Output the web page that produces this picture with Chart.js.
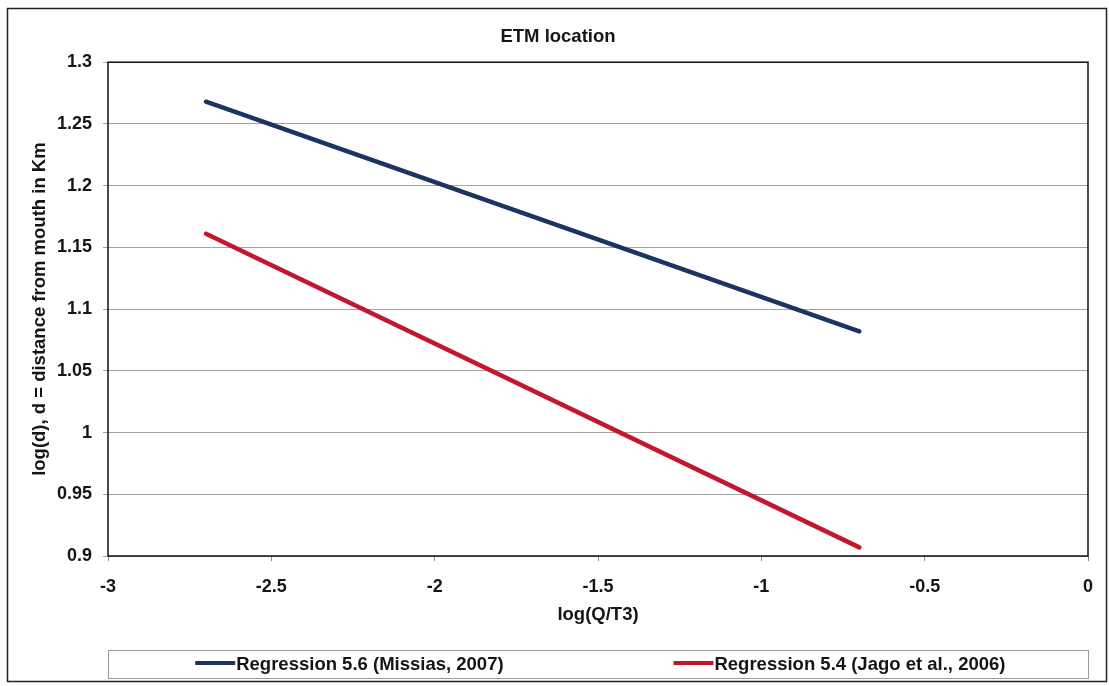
<!DOCTYPE html>
<html>
<head>
<meta charset="utf-8">
<title>ETM location</title>
<script src="https://cdn.jsdelivr.net/npm/chart.js@4"></script>
<style>
  html, body { margin: 0; background: #fff; }
  #wrap { width: 1109px; height: 686px; }
</style>
</head>
<body>
<div id="wrap"><canvas id="etm" width="1109" height="686"></canvas></div>
<script>
// axis ticks
const xTicks = [-3, -2.5, -2, -1.5, -1, -0.5, 0];
const yTicks = [0.9, 0.95, 1, 1.05, 1.1, 1.15, 1.2, 1.25, 1.3];

// regression lines: log(Q/T3) -> log(d)
const logQT3 = [-2.7, -0.7];
const missias = [1.268, 1.082];
const jago = [1.161, 0.907];

const seriesNames = ['Regression 5.6 (Missias, 2007)', 'Regression 5.4 (Jago et al., 2006)'];
const seriesColors = ['#1c3462', '#c3172e'];

const FONT = "'Liberation Sans', Arial, sans-serif";
Chart.defaults.font.family = FONT;
Chart.defaults.font.weight = 'bold';
Chart.defaults.font.size = 18;
Chart.defaults.color = '#151515';

const toPoints = ys => logQT3.map((x, i) => ({ x, y: ys[i] }));

// white page + outer frame
const framePlugin = {
  id: 'frame',
  beforeDraw(chart) {
    const c = chart.ctx;
    c.save();
    c.fillStyle = '#fff';
    c.fillRect(0, 0, chart.width, chart.height);
    c.strokeStyle = '#222';
    c.lineWidth = 1.5;
    c.strokeRect(7.5, 8.5, 1099, 673);
    c.restore();
  }
};

// black box round the plot area
const plotBoxPlugin = {
  id: 'plotBox',
  afterDatasetsDraw(chart) {
    const { left, top, right, bottom } = chart.chartArea;
    const c = chart.ctx;
    c.save();
    c.strokeStyle = '#111';
    c.lineWidth = 1.5;
    c.strokeRect(left, top, right - left, bottom - top);
    c.restore();
  }
};

// legend in a framed strip under the axis title
const legendBoxPlugin = {
  id: 'legendBox',
  afterDraw(chart) {
    const { left, right } = chart.chartArea;
    const c = chart.ctx;
    const top = 650, h = 28, midY = top + h / 2;
    const starts = [0.089, 0.577];
    c.save();
    c.strokeStyle = '#9a9a9a';
    c.lineWidth = 1;
    c.strokeRect(left + 0.5, top + 0.5, right - left, h);
    c.font = `bold 18.5px ${FONT}`;
    c.textBaseline = 'middle';
    c.fillStyle = '#151515';
    chart.data.datasets.forEach((ds, i) => {
      const x0 = left + starts[i] * (right - left);
      c.strokeStyle = ds.borderColor;
      c.lineWidth = 4;
      c.beginPath();
      c.moveTo(x0, midY - 1);
      c.lineTo(x0 + 40, midY - 1);
      c.stroke();
      c.fillText(ds.label, x0 + 41, midY + 1);
    });
    c.restore();
  }
};

new Chart(document.getElementById('etm'), {
  type: 'scatter',
  data: {
    datasets: [
      {
        label: seriesNames[0],
        data: toPoints(missias),
        borderColor: seriesColors[0],
        backgroundColor: seriesColors[0]
      },
      {
        label: seriesNames[1],
        data: toPoints(jago),
        borderColor: seriesColors[1],
        backgroundColor: seriesColors[1]
      }
    ].map(ds => Object.assign(ds, {
      showLine: true,
      pointRadius: 0,
      borderWidth: 4.5,
      borderCapStyle: 'round'
    }))
  },
  options: {
    responsive: false,
    animation: false,
    layout: { padding: { left: 28, right: 21, top: 0, bottom: 60 } },
    plugins: {
      legend: { display: false },
      tooltip: { enabled: false },
      title: {
        display: true,
        text: 'ETM location',
        font: { size: 18.5, weight: 'bold' },
        color: '#151515',
        padding: { top: 26, bottom: 14 }
      }
    },
    scales: {
      x: {
        type: 'linear',
        min: -3,
        max: 0,
        afterBuildTicks: s => { s.ticks = xTicks.map(value => ({ value })); },
        afterFit: s => { s.height = 70; },
        ticks: { callback: v => String(v), padding: 15, maxRotation: 0 },
        grid: { drawOnChartArea: false, drawTicks: true, tickLength: 5, color: '#888' },
        border: { display: false },
        title: { display: true, text: 'log(Q/T3)', font: { size: 18.5 }, padding: { top: 0, bottom: 0 } }
      },
      y: {
        min: 0.9,
        max: 1.3,
        afterBuildTicks: s => { s.ticks = yTicks.map(value => ({ value })); },
        afterFit: s => { s.width = 80; },
        ticks: { callback: v => String(v), padding: 11 },
        grid: { color: '#a2a2a2', lineWidth: 1, tickLength: 5 },
        border: { display: false },
        title: {
          display: true,
          text: 'log(d), d = distance from mouth in Km',
          font: { size: 18.5 },
          padding: { top: 1, bottom: 0 }
        }
      }
    }
  },
  plugins: [framePlugin, plotBoxPlugin, legendBoxPlugin]
});
</script>
</body>
</html>
